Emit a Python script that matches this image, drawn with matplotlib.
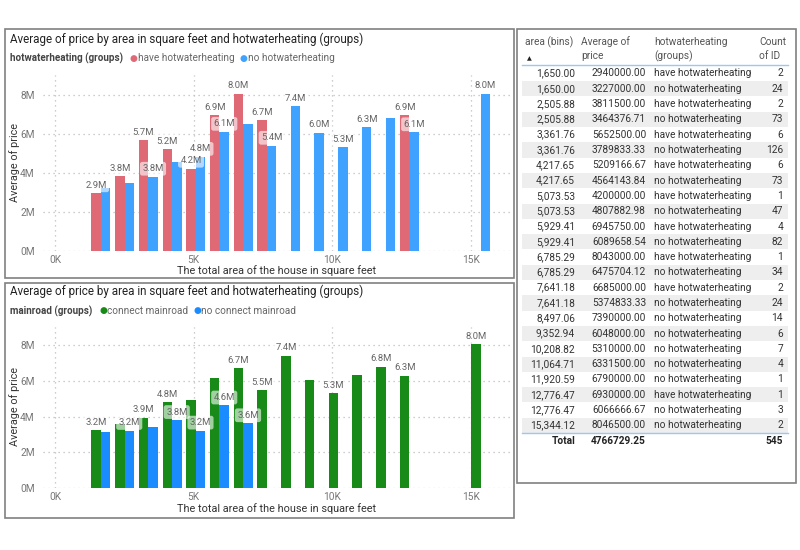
import numpy as np
import matplotlib
matplotlib.use('Agg')
import matplotlib.pyplot as plt
from matplotlib.patches import Rectangle

plt.rcParams['font.family'] = ['Roboto', 'DejaVu Sans']

bins = [1650.00, 2505.88, 3361.76, 4217.65, 5073.53, 5929.41, 6785.29, 7641.18,
        8497.06, 9352.94, 10208.82, 11064.71, 11920.59, 12776.47, 15344.12]
nan = np.nan
hw_have = [2940000.00, 3811500.00, 5652500.00, 5209166.67, 4200000.00, 6945750.00,
           8043000.00, 6685000.00, nan, nan, nan, nan, nan, 6930000.00, nan]
hw_no = [3227000.00, 3464376.71, 3789833.33, 4564143.84, 4807882.98, 6089658.54,
         6475704.12, 5374833.33, 7390000.00, 6048000.00, 5310000.00, 6331500.00,
         6790000.00, 6066666.67, 8046500.00]
hw_have_cnt = [2, 2, 6, 6, 1, 4, 1, 2, 0, 0, 0, 0, 0, 1, 0]
hw_no_cnt = [24, 73, 126, 73, 47, 82, 34, 24, 14, 6, 7, 4, 1, 3, 2]
total_avg = 4766729.25

road_yes = [3.24e6, 3.60e6, 3.94e6, 4.79e6, 4.93e6, 6.17e6, 6.71e6, 5.48e6,
            7.39e6, 6.05e6, 5.31e6, 6.33e6, 6.79e6, 6.28e6, 8.0465e6]
road_no = [3.15e6, 3.20e6, 3.44e6, 3.81e6, 3.22e6, 4.62e6, 3.63e6, nan,
           nan, nan, nan, nan, nan, nan, nan]

# which bars carry a data label
hw_have_lbl = [0, 1, 2, 3, 4, 5, 6, 7, 13]
hw_no_lbl = [2, 4, 5, 7, 8, 9, 10, 11, 13, 14]
road_yes_lbl = [0, 2, 3, 6, 7, 8, 10, 12, 13, 14]
road_no_lbl = [1, 3, 4, 5, 6]

RED = '#DF6A76'
BLUE_T = '#3FA2FF'
BLUE_B = '#1A8CFF'
GREEN = '#178A17'
BIN_W = 855.88

W, H = 800, 550
fig = plt.figure(figsize=(8, 5.5), dpi=100)
rend = fig.canvas.get_renderer()

ov = fig.add_axes([0, 0, 1, 1])
ov.set_xlim(0, W); ov.set_ylim(H, 0); ov.axis('off')


def px_axes(x0, y0, x1, y1):
    return fig.add_axes([x0 / W, 1 - y1 / H, (x1 - x0) / W, (y1 - y0) / H])


def legend_row(x, y, title, items):
    t = ov.text(x, y, title, fontsize=7.1, fontweight='bold', color='#444444', va='center')
    x = x + t.get_window_extent(rend).width + 7
    for lab, col in items:
        ov.text(x, y, '●', fontsize=6.5, color=col, va='center')
        t = ov.text(x + 8, y, lab, fontsize=7.2, color='#666666', va='center')
        x = x + 8 + t.get_window_extent(rend).width + 5


def draw_chart(ax, s1, s2, c1, c2, l1, l2):
    w = BIN_W * 0.4
    x = np.array(bins)
    ax.bar(x - w / 2, s1, width=w, color=c1, zorder=2)
    ax.bar(x + w / 2, s2, width=w, color=c2, zorder=2)
    for s, idx, off in ((s1, l1, -w / 2), (s2, l2, w / 2)):
        for i in idx:
            ax.annotate('%.1fM' % (s[i] / 1e6), (x[i] + off, s[i]),
                        xytext=(0, 2.5), textcoords='offset points',
                        ha='center', va='bottom', fontsize=6.8, color='#666666',
                        zorder=4,
                        bbox=dict(boxstyle='round,pad=0.25', fc='white', ec='none', alpha=0.6))
    ax.set_xlim(-432, 16400)
    ax.set_ylim(0, 9e6)
    ax.set_xticks([0, 5000, 10000, 15000])
    ax.set_xticklabels(['0K', '5K', '10K', '15K'])
    ax.set_yticks([0, 2e6, 4e6, 6e6, 8e6])
    ax.set_yticklabels(['0M', '2M', '4M', '6M', '8M'])
    ax.tick_params(length=0, labelsize=7.3, labelcolor='#777777')
    ax.tick_params(axis='y', pad=6)
    ax.tick_params(axis='x', pad=3)
    ax.grid(True, linestyle=(0, (1, 3)), color='#bdbdbd', lw=0.9, zorder=0)
    ax.set_axisbelow(True)
    for sp in ax.spines.values():
        sp.set_visible(False)
    ax.patch.set_alpha(0)


# panel frames
for (x0, y0, x1, y1) in [(5, 29, 514, 278), (5, 283, 514, 518), (517, 29, 796, 483)]:
    ov.add_patch(Rectangle((x0, y0), x1 - x0, y1 - y0, fill=False, ec='#808080', lw=1.2))

title = 'Average of price by area in square feet and hotwaterheating (groups)'

# top chart
ax1 = px_axes(43, 75, 510, 250.7)
draw_chart(ax1, hw_have, hw_no, RED, BLUE_T, hw_have_lbl, hw_no_lbl)
ov.text(10, 39, title, fontsize=8.4, color='#222222', va='center')
legend_row(10, 58, 'hotwaterheating (groups)',
           [('have hotwaterheating', RED), ('no hotwaterheating', BLUE_T)])
ov.text(15, 162, 'Average of price', fontsize=7.8, color='#333333', rotation=90, ha='center', va='center')
ov.text(277, 271, 'The total area of the house in square feet', fontsize=7.8, color='#333333',
        ha='center', va='center')

# bottom chart
ax2 = px_axes(43, 327, 510, 488.3)
draw_chart(ax2, road_yes, road_no, GREEN, BLUE_B, road_yes_lbl, road_no_lbl)
ov.text(10, 291, title, fontsize=8.4, color='#222222', va='center')
legend_row(10, 311, 'mainroad (groups)',
           [('connect mainroad', GREEN), ('no connect mainroad', BLUE_B)])
ov.text(15, 407, 'Average of price', fontsize=7.8, color='#333333', rotation=90, ha='center', va='center')
ov.text(277, 509, 'The total area of the house in square feet', fontsize=7.8, color='#333333',
        ha='center', va='center')

# table
rows = []
for i, b in enumerate(bins):
    if hw_have_cnt[i] > 0:
        rows.append((b, hw_have[i], 'have hotwaterheating', hw_have_cnt[i]))
    rows.append((b, hw_no[i], 'no hotwaterheating', hw_no_cnt[i]))

fs = 7.3
hdr_c = '#555555'
ov.text(525, 42, 'area (bins)', fontsize=fs, color=hdr_c, va='center')
ov.text(527, 59, '▲', fontsize=4.5, color='#222222', va='center')
ov.text(581, 42, 'Average of', fontsize=fs, color=hdr_c, va='center')
ov.text(581, 56, 'price', fontsize=fs, color=hdr_c, va='center')
ov.text(654, 42, 'hotwaterheating', fontsize=fs, color=hdr_c, va='center')
ov.text(654, 56, '(groups)', fontsize=fs, color=hdr_c, va='center')
ov.text(759, 42, 'Count', fontsize=fs, color=hdr_c, va='center')
ov.text(759, 56, 'of ID', fontsize=fs, color=hdr_c, va='center')
ov.plot([522, 788], [65, 65], color='#9CC8EE', lw=1)

y0, rh = 73.5, 15.3
for k, (b, avg, grp, cnt) in enumerate(rows):
    y = y0 + k * rh
    if k % 2 == 1:
        ov.add_patch(Rectangle((522, y - rh / 2), 266, rh, color='#EEEEEE', lw=0))
    ov.text(575, y, '{:,.2f}'.format(b), fontsize=fs, color='#333333', ha='right', va='center')
    ov.text(646, y, '{:.2f}'.format(avg), fontsize=fs, color='#333333', ha='right', va='center')
    ov.text(654, y, grp, fontsize=fs, color='#333333', va='center')
    ov.text(783, y, str(cnt), fontsize=fs, color='#333333', ha='right', va='center')

yl = y0 + (len(rows) - 1) * rh + 7.5
ov.plot([522, 788], [yl, yl], color='#9CC8EE', lw=1)
yt = yl + 8.5
ov.text(575, yt, 'Total', fontsize=fs, fontweight='bold', color='#222222', ha='right', va='center')
ov.text(646, yt, '{:.2f}'.format(total_avg), fontsize=fs, fontweight='bold', color='#222222',
        ha='right', va='center')
ov.text(783, yt, str(sum(hw_have_cnt) + sum(hw_no_cnt)), fontsize=fs, fontweight='bold',
        color='#222222', ha='right', va='center')

fig.savefig('out.png', dpi=100)
